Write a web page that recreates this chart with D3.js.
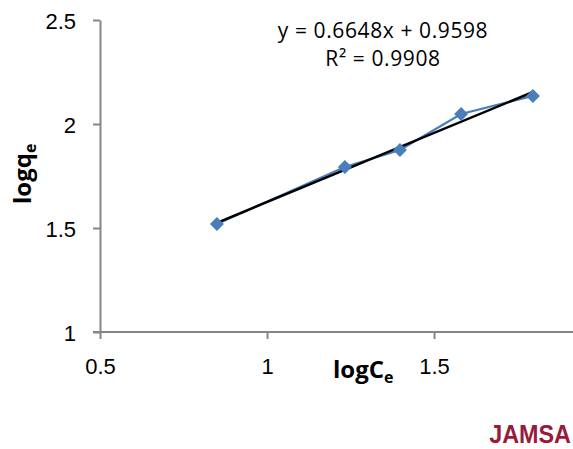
<!DOCTYPE html>
<html>
<head>
<meta charset="utf-8">
<script src="https://cdn.jsdelivr.net/npm/d3@7"></script>
<style>
  body { margin: 0; background: #fff; }
  svg { display: block; font-family: "Open Sans", "Liberation Sans", sans-serif; }
</style>
</head>
<body>
<svg id="chart" width="573" height="449"></svg>
<script>
const logC = [0.85, 1.233, 1.398, 1.581, 1.796]
const logQ = [1.519, 1.793, 1.875, 2.048, 2.135]
const xTicks = [0.5, 1, 1.5]
const yTicks = [1, 1.5, 2, 2.5]
const slope = 0.6648
const intercept = 0.9598
const eqText = 'y = 0.6648x + 0.9598'
const r2Text = 'R² = 0.9908'

document.addEventListener('DOMContentLoaded', function () {
  drawChart()
})

function drawChart() {
  const svg = d3.select('#chart')
  const axisColor = '#868686'

  const x = d3.scaleLinear().domain([0.5, 1.916]).range([100, 573])
  const y = d3.scaleLinear().domain([1, 2.5]).range([332, 20])

  // y axis
  const yAxis = svg.append('g')
    .attr('transform', 'translate(100,0)')
    .call(d3.axisLeft(y).tickValues(yTicks).tickFormat(d3.format('')).tickSize(7).tickPadding(17).tickSizeOuter(0))
  yAxis.select('.domain').attr('stroke', axisColor).attr('stroke-width', 2)
  yAxis.selectAll('.tick line').attr('stroke', axisColor).attr('stroke-width', 2)
  yAxis.selectAll('.tick text').attr('font-size', 22).attr('fill', '#000').attr('dy', 8)

  // x axis
  const xAxis = svg.append('g')
    .attr('transform', 'translate(0,332)')
    .call(d3.axisBottom(x).tickValues(xTicks).tickFormat(d3.format('')).tickSize(7).tickSizeOuter(0))
  xAxis.select('.domain').attr('stroke', axisColor).attr('stroke-width', 2).attr('d', 'M93,0H573')
  xAxis.selectAll('.tick line').attr('stroke', axisColor).attr('stroke-width', 2)
  xAxis.selectAll('.tick text').attr('font-size', 22).attr('fill', '#000').attr('y', 42).attr('dy', 0)

  const data = logC.map((c, i) => ({ x: c, y: logQ[i] }))

  // data line
  svg.append('path')
    .datum(data)
    .attr('fill', 'none')
    .attr('stroke', '#4a7ebb')
    .attr('stroke-width', 2.2)
    .attr('d', d3.line().x(d => x(d.x)).y(d => y(d.y)))

  // trendline
  const xs = d3.extent(logC)
  svg.append('path')
    .datum(xs.map(v => ({ x: v, y: slope * v + intercept })))
    .attr('fill', 'none')
    .attr('stroke', '#000')
    .attr('stroke-width', 2.5)
    .attr('d', d3.line().x(d => x(d.x)).y(d => y(d.y)))

  // markers
  svg.append('g')
    .selectAll('path')
    .data(data)
    .join('path')
    .attr('transform', d => `translate(${x(d.x)},${y(d.y)})`)
    .attr('d', 'M0,-7L7,0L0,7L-7,0Z')
    .attr('fill', '#4a7ebb')

  // equation
  svg.append('text')
    .attr('x', 383).attr('y', 38)
    .attr('text-anchor', 'middle')
    .attr('font-size', 21).attr('letter-spacing', 0.6)
    .text(eqText)
  svg.append('text')
    .attr('x', 383).attr('y', 66)
    .attr('text-anchor', 'middle')
    .attr('font-size', 21).attr('letter-spacing', 0.6)
    .text(r2Text)

  // axis titles
  const xt = svg.append('text')
    .attr('x', 333).attr('y', 378)
    .attr('font-size', 24).attr('font-weight', 'bold')
  xt.append('tspan').text('logC')
  xt.append('tspan').attr('font-size', 16).attr('dy', 5).text('e')

  const yt = svg.append('text')
    .attr('transform', 'translate(31,204) rotate(-90)')
    .attr('font-size', 24).attr('font-weight', 'bold')
  yt.append('tspan').text('logq')
  yt.append('tspan').attr('font-size', 16).attr('dy', 5).text('e')

  // logo
  svg.append('text')
    .attr('transform', 'translate(571,443) scale(0.9,1)')
    .attr('text-anchor', 'end')
    .attr('font-family', '"Liberation Sans Narrow", "Liberation Sans", sans-serif')
    .attr('font-size', 26).attr('font-weight', 'bold')
    .attr('fill', '#991b3b')
    .text('JAMSA')
}
</script>
</body>
</html>
